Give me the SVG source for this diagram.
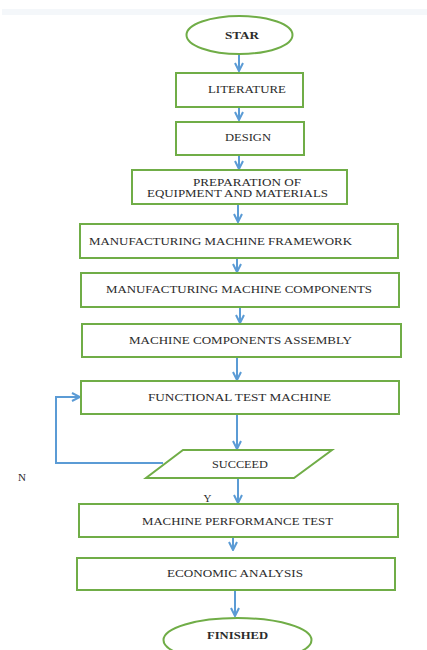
<svg xmlns="http://www.w3.org/2000/svg" width="427" height="650" viewBox="0 0 427 650">
<defs>
<style>
.box{fill:#fff;stroke:#70ad47;stroke-width:2}
.t{font-family:"Liberation Serif","Times New Roman",serif;font-size:11px;fill:#2b2b2b;text-anchor:middle}
.b{font-weight:bold}
.c{fill:none;stroke:#5b9bd5;stroke-width:2}
</style>
<marker id="ah" viewBox="0 0 10 10" refX="9" refY="5" markerWidth="10" markerHeight="10" markerUnits="userSpaceOnUse" orient="auto">
<polyline points="1,1 9,5 1,9" fill="none" stroke="#5b9bd5" stroke-width="2"/>
</marker>
</defs>
<rect x="0" y="0" width="427" height="650" fill="#fff"/>
<rect x="2" y="9" width="425" height="6" fill="#f4f7fa"/>
<g id="connectors">
<line class="c" x1="239" y1="54" x2="239" y2="71" marker-end="url(#ah)"/>
<line class="c" x1="239" y1="107" x2="239" y2="120" marker-end="url(#ah)"/>
<line class="c" x1="239" y1="155" x2="239" y2="169" marker-end="url(#ah)"/>
<line class="c" x1="238" y1="205" x2="238" y2="222" marker-end="url(#ah)"/>
<line class="c" x1="237" y1="259" x2="237" y2="272" marker-end="url(#ah)"/>
<line class="c" x1="240" y1="308" x2="240" y2="323" marker-end="url(#ah)"/>
<line class="c" x1="237" y1="358" x2="237" y2="380" marker-end="url(#ah)"/>
<line class="c" x1="237" y1="414" x2="237" y2="449" marker-end="url(#ah)"/>
<polyline class="c" points="163,463 56,463 56,397 80,397" marker-end="url(#ah)"/>
<line class="c" x1="238" y1="478" x2="238" y2="503" marker-end="url(#ah)"/>
<line class="c" x1="233" y1="538" x2="233" y2="550" marker-end="url(#ah)"/>
<line class="c" x1="235" y1="590" x2="235" y2="616" marker-end="url(#ah)"/>
</g>
<g id="start">
<ellipse class="box" cx="239.5" cy="35" rx="53" ry="19"/>
<text class="t b" x="242" y="39" textLength="34" lengthAdjust="spacingAndGlyphs">STAR</text>
</g>
<g id="literature">
<rect class="box" x="176" y="73" width="127" height="34"/>
<text class="t" x="247" y="93" textLength="78" lengthAdjust="spacingAndGlyphs">LITERATURE</text>
</g>
<g id="design">
<rect class="box" x="176" y="122" width="128" height="33"/>
<text class="t" x="248" y="141" textLength="46" lengthAdjust="spacingAndGlyphs">DESIGN</text>
</g>
<g id="preparation">
<rect class="box" x="132" y="170" width="215" height="34"/>
<text class="t" x="247" y="186" textLength="108" lengthAdjust="spacingAndGlyphs">PREPARATION OF</text>
<text class="t" x="237.5" y="197" textLength="181" lengthAdjust="spacingAndGlyphs">EQUIPMENT  AND MATERIALS</text>
</g>
<g id="framework">
<rect class="box" x="80" y="224" width="318" height="34"/>
<text class="t" x="220.5" y="245" textLength="263" lengthAdjust="spacingAndGlyphs">MANUFACTURING MACHINE FRAMEWORK</text>
</g>
<g id="components">
<rect class="box" x="81" y="273" width="318" height="34"/>
<text class="t" x="239" y="293" textLength="266" lengthAdjust="spacingAndGlyphs">MANUFACTURING MACHINE COMPONENTS</text>
</g>
<g id="assembly">
<rect class="box" x="82" y="324" width="319" height="33"/>
<text class="t" x="240.5" y="344" textLength="223" lengthAdjust="spacingAndGlyphs">MACHINE COMPONENTS  ASSEMBLY</text>
</g>
<g id="functional">
<rect class="box" x="81" y="381" width="318" height="33"/>
<text class="t" x="239.5" y="401" textLength="183" lengthAdjust="spacingAndGlyphs">FUNCTIONAL  TEST  MACHINE</text>
</g>
<g id="succeed">
<polygon class="box" points="183,450 332,450 294,478 146,478"/>
<text class="t" x="240" y="468" textLength="56" lengthAdjust="spacingAndGlyphs">SUCCEED</text>
</g>
<text class="t" x="22" y="481" font-size="13">N</text>
<text class="t" x="207.5" y="502" font-size="13">Y</text>
<g id="performance">
<rect class="box" x="79" y="504" width="319" height="33"/>
<text class="t" x="237.5" y="525" textLength="191" lengthAdjust="spacingAndGlyphs">MACHINE PERFORMANCE TEST</text>
</g>
<g id="economic">
<rect class="box" x="77" y="558" width="318" height="32"/>
<text class="t" x="235" y="577" textLength="136" lengthAdjust="spacingAndGlyphs">ECONOMIC ANALYSIS</text>
</g>
<g id="finished">
<ellipse class="box" cx="237.5" cy="640" rx="74" ry="22"/>
<text class="t b" x="237.5" y="639" textLength="61" lengthAdjust="spacingAndGlyphs">FINISHED</text>
</g>
</svg>
